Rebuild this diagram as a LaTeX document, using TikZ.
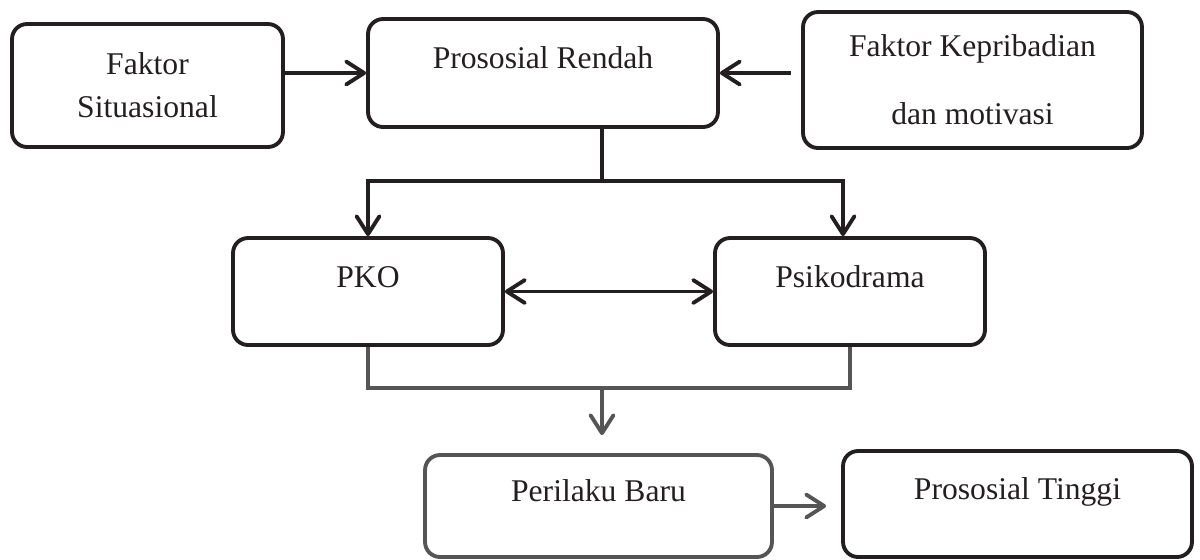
\documentclass[tikz,border=0pt]{standalone}
\usepackage{fontspec}
\setmainfont{Liberation Serif}
\usepackage{tikz}
\usetikzlibrary{arrows.meta,positioning}
\definecolor{ink}{HTML}{231F20}
\definecolor{greyline}{HTML}{555555}

\begin{document}
\begin{tikzpicture}[x=0.02cm, y=-0.02cm,
  box/.style={draw=ink, line width=2.2pt, rounded corners=0.3cm, align=center, inner sep=0pt, text=ink, font=\fontsize{18}{24.5}\selectfont},
  toptext/.style={text height=0.45cm, text depth=0.63cm},
  conn/.style={draw=ink, line width=2.2pt},
  arrow/.style={conn, -{Straight Barb[length=3.6mm, width=4.6mm, round]}},
  dblarrow/.style={conn, {Straight Barb[length=3.6mm, width=4.6mm, round]}-{Straight Barb[length=3.6mm, width=4.6mm, round]}},
  gconn/.style={conn, draw=greyline},
  garrow/.style={arrow, draw=greyline}
]
\useasboundingbox (0,0) rectangle (1200,559);

\node[box, minimum width=5.42cm, minimum height=2.46cm] (sit) at (147.5,85.5) {Faktor\\Situasional};
\node[box, toptext, minimum width=7.0cm, minimum height=2.16cm] (rendah) at (543,73) {Prososial Rendah};
\node[box, minimum width=6.78cm, minimum height=2.72cm] (kep) at (972.5,80) {Faktor Kepribadian\\[14.2pt]dan motivasi};
\node[box, toptext, minimum width=5.4cm, minimum height=2.14cm] (pko) at (368,291.5) {PKO};
\node[box, toptext, minimum width=5.4cm, minimum height=2.14cm] (psiko) at (850,291.5) {Psikodrama};
\node[box, toptext, draw=greyline, minimum width=6.94cm, minimum height=2.04cm] (baru) at (598.5,506) {Perilaku Baru};
\node[box, toptext, minimum width=6.98cm, minimum height=2.12cm] (tinggi) at (1017.5,504) {Prososial Tinggi};

\coordinate (split) at (602,181);
\coordinate (join) at (602,388);

% top row into Prososial Rendah
\draw[arrow] (sit.east |- rendah.west) -- (rendah.west);
\draw[arrow, shorten <=0.2cm] (kep.west |- rendah.east) -- (rendah.east);

% split down to the two methods
\draw[conn] (rendah.south -| split) -- (split);
\draw[arrow] (split) -| (pko.north);
\draw[arrow] (split) -| ([xshift=-0.14cm]psiko.north);
\draw[dblarrow] (pko.east) -- (psiko.west);

% join into new behaviour
\draw[gconn] (pko.south) |- (join);
\draw[gconn] (psiko.south) |- (join);
\draw[garrow, shorten >=0.36cm] (join) -- (join |- baru.north);
\draw[garrow, shorten >=0.3cm] (baru.east) -- (baru.east -| tinggi.west);
\end{tikzpicture}
\end{document}
